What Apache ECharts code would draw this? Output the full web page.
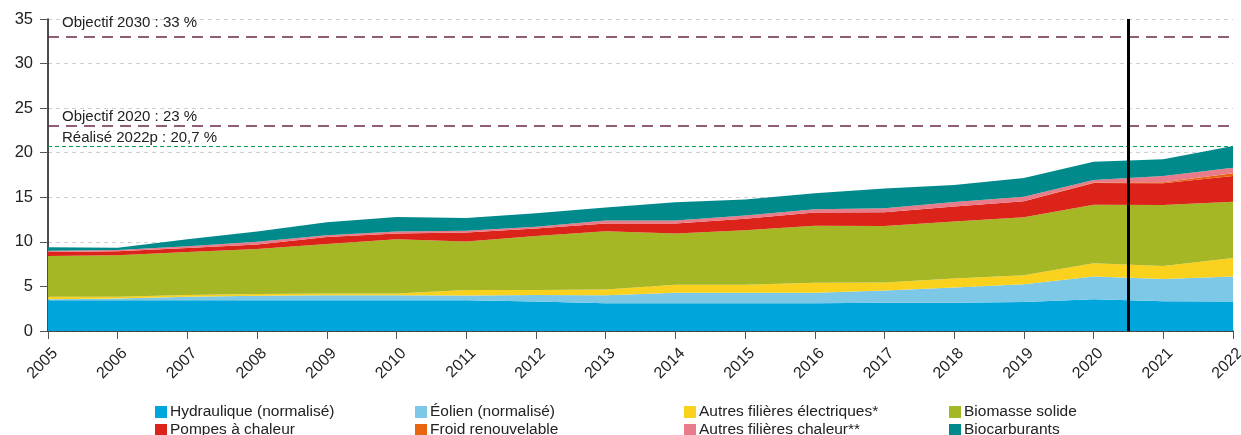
<!DOCTYPE html>
<html lang="fr">
<head>
<meta charset="UTF-8">
<title>Part des énergies renouvelables</title>
<style>
  html, body { margin: 0; padding: 0; background: #fff; }
  #main { width: 1241px; height: 435px; }
</style>
</head>
<body>
<div id="main"></div>
<script src="https://cdn.jsdelivr.net/npm/echarts@6/dist/echarts.min.js"></script>
<script type="text/javascript">
    // années
    var years = ['2005', '2006', '2007', '2008', '2009', '2010', '2011', '2012', '2013', '2014', '2015', '2016', '2017', '2018', '2019', '2020', '2021', '2022'];

    // valeurs en %
    var hydraulique   = [3.45, 3.45, 3.45, 3.45, 3.45, 3.45, 3.44, 3.3, 3.1, 3.1, 3.1, 3.1, 3.18, 3.18, 3.25, 3.55, 3.33, 3.3];
    var eolien        = [0.1, 0.2, 0.4, 0.5, 0.55, 0.55, 0.55, 0.75, 0.9, 1.2, 1.2, 1.2, 1.35, 1.7, 2.0, 2.55, 2.5, 2.8];
    var autresElec    = [0.3, 0.2, 0.2, 0.2, 0.2, 0.2, 0.6, 0.55, 0.65, 0.9, 0.9, 1.1, 0.9, 1.0, 1.0, 1.5, 1.45, 2.1];
    var biomasse      = [4.55, 4.65, 4.8, 5.05, 5.55, 6.1, 5.45, 6.05, 6.55, 5.75, 6.1, 6.4, 6.35, 6.4, 6.5, 6.55, 6.85, 6.3];
    var pac           = [0.45, 0.45, 0.45, 0.5, 0.8, 0.65, 1.0, 0.85, 0.85, 1.1, 1.3, 1.5, 1.55, 1.7, 1.8, 2.45, 2.45, 2.9];
    var froid         = [0, 0, 0, 0, 0, 0, 0, 0, 0, 0, 0, 0, 0, 0, 0, 0.05, 0.1, 0.3];
    var autresChaleur = [0.15, 0.15, 0.2, 0.3, 0.2, 0.2, 0.2, 0.2, 0.35, 0.35, 0.35, 0.35, 0.45, 0.5, 0.5, 0.3, 0.7, 0.6];
    var biocarburants = [0.4, 0.25, 0.8, 1.15, 1.45, 1.65, 1.45, 1.5, 1.45, 2.05, 1.8, 1.8, 2.2, 1.9, 2.1, 2.05, 1.9, 2.45];

    // graduations de l'axe y
    var yTicks = [0, 5, 10, 15, 20, 25, 30, 35];

    // repères
    var objectif2030 = 33;
    var objectif2020 = 23;
    var realise2022 = 20.7;
    var coupure = 2020.5;

    var names = ['Hydraulique (normalisé)', 'Éolien (normalisé)', 'Autres filières électriques*', 'Biomasse solide',
        'Pompes à chaleur', 'Froid renouvelable', 'Autres filières chaleur**', 'Biocarburants'];
    var colors = ['#00a5dc', '#7dc8e6', '#fad21e', '#a6b726', '#dc2319', '#e8640f', '#e97c8b', '#008a8c'];
    var values = [hydraulique, eolien, autresElec, biomasse, pac, froid, autresChaleur, biocarburants];

    var font = 'Liberation Sans, Arial, sans-serif';

    var series = [];
    for (var i = 0; i < names.length; i++) {
        series.push({
            name: names[i],
            type: 'line',
            stack: 'total',
            symbol: 'none',
            xAxisIndex: 0,
            lineStyle: { width: 0 },
            areaStyle: { color: colors[i], opacity: 1 },
            itemStyle: { color: colors[i] },
            z: 2,
            data: values[i]
        });
    }

    // lignes de référence portées par une série vide (axe x numérique caché)
    series.push({
        name: 'reperes',
        type: 'line',
        xAxisIndex: 1,
        data: [],
        z: 5,
        markLine: {
            silent: true,
            symbol: 'none',
            animation: false,
            data: [
                {
                    yAxis: objectif2030,
                    lineStyle: { color: '#6b2848', type: [11, 7], width: 1.5 },
                    label: { formatter: 'Objectif 2030 : 33 %', distance: [14, 6] }
                },
                {
                    yAxis: objectif2020,
                    lineStyle: { color: '#6b2848', type: [11, 7], width: 1.5 },
                    label: { formatter: 'Objectif 2020 : 23 %', distance: [14, 2] }
                },
                {
                    yAxis: realise2022,
                    lineStyle: { color: '#00a050', type: [4, 3], width: 1 },
                    label: { formatter: 'Réalisé 2022p : 20,7 %', distance: [14, 1] }
                },
                {
                    xAxis: coupure,
                    lineStyle: { color: '#000', type: 'solid', width: 3 },
                    label: { show: false }
                }
            ],
            label: {
                position: 'insideStartTop',
                color: '#222',
                fontFamily: font,
                fontSize: 15
            }
        }
    });

    var legendLeft = [155, 415, 684, 949];
    var legendTop = [404, 422];
    var legends = names.map(function (n, k) {
        return {
            left: legendLeft[k % 4],
            top: legendTop[Math.floor(k / 4)],
            itemWidth: 12,
            itemHeight: 12,
            icon: 'rect',
            data: [n],
            padding: 0,
            textStyle: { color: '#222', fontFamily: font, fontSize: 15.5, padding: [0, 0, 0, -2] }
        };
    });

    var chart = echarts.init(document.getElementById('main'));
    chart.setOption({
        animation: false,
        color: colors,
        grid: { left: 48, right: 8, top: 19, bottom: 104, outerBoundsMode: 'none', containLabel: false },
        legend: legends,
        xAxis: [{
            type: 'category',
            data: years,
            boundaryGap: false,
            splitLine: { show: false },
            axisLine: { lineStyle: { color: '#111', width: 1.5 } },
            axisTick: { show: true, length: 8, lineStyle: { color: '#555' } },
            axisLabel: {
                rotate: 45,
                color: '#222',
                fontFamily: font,
                fontSize: 16,
                margin: 27,
                padding: [0, -10, 0, 0],
                interval: 0
            }
        }, {
            type: 'value',
            min: 2005,
            max: 2022,
            show: false
        }],
        yAxis: {
            type: 'value',
            min: yTicks[0],
            max: yTicks[yTicks.length - 1],
            interval: 5,
            axisLine: { show: true, lineStyle: { color: '#111', width: 1.5 } },
            axisTick: { show: true, length: 8, lineStyle: { color: '#555' } },
            axisLabel: { color: '#222', fontFamily: font, fontSize: 16.5, margin: 15 },
            splitLine: { lineStyle: { color: '#cfcfcf', type: [4, 4] } }
        },
        series: series
    });
</script>
</body>
</html>
